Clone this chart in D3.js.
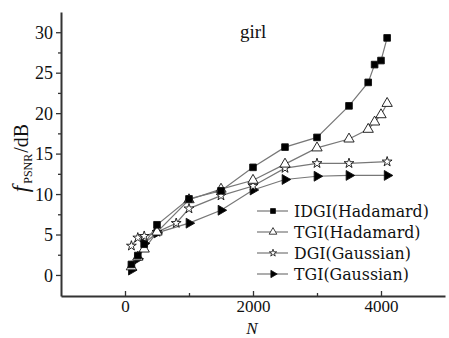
<!DOCTYPE html>
<html>
<head>
<meta charset="utf-8">
<script src="https://cdn.jsdelivr.net/npm/d3@7"></script>
<style>
  body { margin: 0; background: #fff; }
  svg { display: block; }
</style>
</head>
<body>
<svg id="chart"></svg>
<script>
// data
const seriesNames = ["IDGI(Hadamard)", "TGI(Hadamard)", "DGI(Gaussian)", "TGI(Gaussian)"];
const nHadamard = [100, 200, 300, 500, 1000, 1500, 2000, 2500, 3000, 3500, 3800, 3900, 4000, 4096];
const idgiHadamard = [1.3, 2.4, 3.8, 6.2, 9.4, 10.4, 13.3, 15.8, 17.0, 20.9, 23.8, 26.0, 26.5, 29.3];
const tgiHadamard = [1.0, 2.2, 3.2, 5.3, 9.3, 10.6, 11.7, 13.7, 15.7, 16.8, 18.0, 18.9, 19.8, 21.2];
const nDgiGauss = [100, 200, 300, 500, 800, 1000, 1500, 2000, 2500, 3000, 3500, 4096];
const dgiGaussian = [3.6, 4.6, 4.8, 5.3, 6.4, 8.2, 9.8, 11.0, 13.2, 13.8, 13.8, 14.0];
const nTgiGauss = [100, 200, 300, 500, 1000, 1500, 2000, 2500, 3000, 3500, 4096];
const tgiGaussian = [0.6, 2.0, 3.9, 5.2, 6.4, 8.0, 10.5, 11.8, 12.2, 12.3, 12.3];
const xMajorTicks = [0, 2000, 4000];
const xMinorTicks = [1000, 3000];
const yMajorTicks = [0, 5, 10, 15, 20, 25, 30];
const yMinorTicks = [2.5, 7.5, 12.5, 17.5, 22.5, 27.5];

const width = 449, height = 338;
const svg = d3.select("#chart").attr("width", width).attr("height", height);

const x = d3.scaleLinear().domain([-1000, 5000]).range([61, 445]);
const y = d3.scaleLinear().domain([-2.6, 32.5]).range([296, 12]);

const axisColor = "#333";
const lineColor = "#777";
const serif = "'Liberation Serif', 'DejaVu Serif', serif";

// axes: y ticks point out, x ticks point in
const yAxis = svg.append("g").attr("transform", `translate(${x.range()[0]},0)`)
  .call(d3.axisLeft(y).tickValues(yMajorTicks).tickSize(5).tickPadding(3).tickSizeOuter(0));
svg.append("g").attr("transform", `translate(${x.range()[0]},0)`)
  .call(d3.axisLeft(y).tickValues(yMinorTicks).tickSize(3).tickFormat("").tickSizeOuter(0))
  .select(".domain").remove();

const xAxis = svg.append("g").attr("transform", `translate(0,${y.range()[0]})`)
  .call(d3.axisBottom(x).tickValues(xMajorTicks).tickSize(-5).tickPadding(4)
    .tickFormat(d3.format("d")).tickSizeOuter(0));
svg.append("g").attr("transform", `translate(0,${y.range()[0]})`)
  .call(d3.axisBottom(x).tickValues(xMinorTicks).tickSize(-3).tickFormat("").tickSizeOuter(0))
  .select(".domain").remove();

svg.selectAll(".domain").attr("stroke", axisColor).attr("stroke-width", 2);
svg.selectAll(".tick line").attr("stroke", axisColor).attr("stroke-width", 1.3);
svg.selectAll(".tick text")
  .attr("font-family", serif).attr("font-size", 18).attr("fill", "#111");
xAxis.selectAll(".tick text").attr("font-size", 17);
yAxis.selectAll(".tick text").attr("dy", "0.34em");

// marker shapes
const markerFor = [
  { shape: d3.symbolSquare, size: 44, fill: "#000", rot: 0 },
  { shape: d3.symbolTriangle, size: 46, fill: "#fff", rot: 0 },
  { shape: d3.symbolStar, size: 30, fill: "#fff", rot: 0 },
  { shape: d3.symbolTriangle, size: 42, fill: "#000", rot: 90 }
];

const series = [
  { xs: nHadamard, ys: idgiHadamard },
  { xs: nHadamard, ys: tgiHadamard },
  { xs: nDgiGauss, ys: dgiGaussian },
  { xs: nTgiGauss, ys: tgiGaussian }
].map((s, i) => ({ name: seriesNames[i], m: markerFor[i], pts: s.xs.map((n, j) => [n, s.ys[j]]) }));

const line = d3.line().x(d => x(d[0])).y(d => y(d[1]));

series.forEach(s => {
  svg.append("path").datum(s.pts).attr("d", line)
    .attr("fill", "none").attr("stroke", lineColor).attr("stroke-width", 1.2);
});

series.slice().reverse().forEach(s => {
  svg.append("g").selectAll("path").data(s.pts).join("path")
    .attr("d", d3.symbol(s.m.shape, s.m.size))
    .attr("transform", d => `translate(${x(d[0])},${y(d[1])}) rotate(${s.m.rot})`)
    .attr("fill", s.m.fill)
    .attr("stroke", "#111").attr("stroke-width", 0.9);
});

// legend
const legend = svg.append("g").attr("transform", "translate(257,211)");
series.forEach((s, i) => {
  const g = legend.append("g").attr("transform", `translate(0,${i * 21})`);
  g.append("line").attr("x1", 0).attr("x2", 31).attr("y1", 0).attr("y2", 0)
    .attr("stroke", lineColor).attr("stroke-width", 1.2);
  g.append("path").attr("d", d3.symbol(s.m.shape, s.m.size * 0.55))
    .attr("transform", `translate(16,0) rotate(${s.m.rot})`)
    .attr("fill", s.m.fill).attr("stroke", "#111").attr("stroke-width", 0.8);
  g.append("text").attr("x", 37).attr("y", 0).attr("dy", "0.36em")
    .attr("font-family", "'DejaVu Serif', serif").attr("font-size", 15.8)
    .attr("fill", "#111").text(s.name);
});

// title inside plot
svg.append("text").attr("x", 240).attr("y", 38)
  .attr("font-family", serif).attr("font-size", 19).attr("fill", "#111").text("girl");

// axis labels
svg.append("text").attr("x", 252).attr("y", 334).attr("text-anchor", "middle")
  .attr("font-family", serif).attr("font-size", 17).attr("font-style", "italic")
  .attr("fill", "#111").text("N");

const yl = svg.append("text").attr("transform", "translate(28,158) rotate(-90)")
  .attr("text-anchor", "middle").attr("font-family", serif).attr("fill", "#111");
yl.append("tspan").attr("font-size", 23).attr("font-style", "italic").text("f");
yl.append("tspan").attr("font-size", 12).attr("dy", 4).attr("dx", 2).text("PSNR");
yl.append("tspan").attr("font-size", 20).attr("dy", -4).attr("dx", 1).text("/dB");
</script>
</body>
</html>
